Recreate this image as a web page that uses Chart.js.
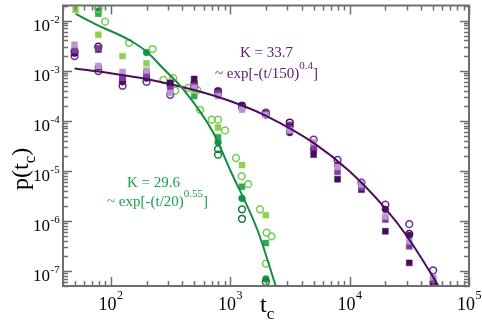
<!DOCTYPE html>
<html>
<head>
<meta charset="utf-8">
<script src="https://cdn.jsdelivr.net/npm/chart.js@4"></script>
<style>
  html, body { margin: 0; padding: 0; background: #fff; }
</style>
</head>
<body>
<canvas id="chart" width="482" height="323"></canvas>
<script>
// ---- data ----
const tPurple = [50, 79, 126, 200, 316, 501, 794, 1259, 1995, 3162, 5012, 7943, 12589, 19953, 31623, 50119];
const purpleSqLight = [3.3e-3, 1.24e-3, 9.4e-4, 1.0e-3, 3.6e-4, 4.5e-4, 3.1e-4, 1.66e-4, 1.3e-4, 6.4e-5, 3.7e-5, 1.19e-5, 5.3e-6, 1.22e-6, 3.9e-7, 7.5e-8];
const purpleSqMid = [2.55e-3, 2.8e-3, 7.1e-4, 8.2e-4, 4.3e-4, 5.0e-4, 3.6e-4, 1.82e-4, 1.35e-4, 7.0e-5, 2.95e-5, 9.5e-6, 4.6e-6, 1.06e-6, 3.1e-7, 6.6e-8];
const purpleSqDark = [2.3e-3, 2.65e-3, 6.8e-4, 9.0e-4, 5.7e-4, 6.8e-4, 3.9e-4, 2.0e-4, 1.4e-4, 7.7e-5, 2.1e-5, 6.8e-6, 4.2e-6, 6.2e-7, 1.45e-7, 5.5e-8];
const purpleDot = [2.23e-3, 1.18e-3, 6.0e-4, 7.1e-4, 5.2e-4, 5.7e-4, 3.3e-4, 1.82e-4, 1.3e-4, 5.8e-5, 2.7e-5, 1.3e-5, 5.0e-6, 1.7e-6, 5.1e-7, 5.8e-8];
const purpleRing = [1.95e-3, 9.8e-4, 5.0e-4, 6.0e-4, 3.3e-4, 4.7e-4, 3.9e-4, 2.0e-4, 1.45e-4, 8.0e-5, 4.2e-5, 1.65e-5, 5.8e-6, 2.1e-6, 8.6e-7, 1.03e-7];
const tPurpleRing2 = [50, 79, 3162, 31623];
const purpleRing2 = [2.4e-3, 3.0e-3, 9.2e-5, 5.5e-7];

const tGreenSq = [51, 79, 126, 200, 316, 501, 794, 1259, 1995];
const greenSqLight = [1.65e-2, 5.2e-3, 1.95e-3, 1.4e-3, 5.7e-4, 4.0e-4, 7.3e-5, 1.3e-5, 1.3e-6];
const tGreenRing = [79, 90, 143, 225, 277, 335, 348, 447, 531, 562, 704, 794, 908, 1122, 1252, 1421, 1778, 2023, 2226, 1995];
const greenRing = [1.7e-2, 9.5e-3, 3.6e-3, 2.7e-3, 6.5e-4, 7.1e-4, 4.0e-4, 4.5e-4, 4.1e-4, 1.65e-4, 1.05e-4, 1.05e-4, 6.4e-5, 1.8e-5, 7.8e-6, 5.4e-6, 1.7e-6, 5.8e-7, 4.9e-7, 1.4e-7];
const tGreenSqMid = [79, 316, 501, 794, 1259, 1995];
const greenSqMid = [1.37e-2, 5.0e-4, 3.1e-4, 4.7e-5, 4.8e-6, 3.6e-7];
const tGreenRingDark = [79, 794, 794, 1259, 1259, 1995];
const greenRingDark = [1.8e-2, 2.7e-5, 2.1e-5, 1.7e-6, 1.1e-6, 6.0e-8];
const tGreenDot = [79, 200, 794, 1259, 1995];
const greenDot = [1.55e-2, 2.3e-3, 3.7e-5, 2.8e-6, 6.9e-8];

// fitted curves
const tFitGreen = [51, 77, 146, 200, 276, 408, 721, 1000, 1711, 2420];
const fitGreen = [1.36e-2, 8.2e-3, 4.0e-3, 2.4e-3, 1.1e-3, 4.2e-4, 5.9e-5, 1.05e-5, 6.2e-7, 4.9e-8];
const tFitPurple = [50, 100, 200, 500, 1000, 2000, 5000, 10000, 20000, 30000, 50000, 56000];
const fitPurple = [1.1e-3, 8.9e-4, 6.8e-4, 4.1e-4, 2.47e-4, 1.25e-4, 3.6e-5, 9.8e-6, 1.76e-6, 5.1e-7, 7.6e-8, 4.8e-8];

const xTicks = [100, 1000, 10000, 100000];
const yTicks = [1e-2, 1e-3, 1e-4, 1e-5, 1e-6, 1e-7];

const pts = (ts, ps) => ts.map((t, i) => ({ x: t, y: ps[i] }));

function marks(label, ts, ps, shape, color, filled) {
  return {
    label: label,
    data: pts(ts, ps),
    showLine: false,
    pointStyle: shape,
    pointRadius: shape === "rect" ? 4.2 : 3.4,
    pointBorderWidth: filled ? 0.5 : 1.5,
    pointBorderColor: color,
    pointBackgroundColor: filled ? color : "rgba(0,0,0,0)",
    order: 2,
  };
}

function fit(label, ts, ps, color) {
  return {
    label: label,
    data: pts(ts, ps),
    showLine: true,
    borderColor: color,
    borderWidth: 2,
    pointRadius: 0,
    cubicInterpolationMode: "monotone",
    order: 1,
  };
}

const datasets = [
  marks("purple sq light", tPurple, purpleSqLight, "rect", "#b896d2", true),
  marks("purple sq mid", tPurple, purpleSqMid, "rect", "#7b3f99", true),
  marks("purple sq dark", tPurple, purpleSqDark, "rect", "#4a0b5a", true),
  marks("purple dot", tPurple, purpleDot, "circle", "#4d0e5e", true),
  marks("purple ring", tPurple, purpleRing, "circle", "#6e2d8e", false),
  marks("purple ring 2", tPurpleRing2, purpleRing2, "circle", "#4a0b5a", false),
  marks("green sq light", tGreenSq, greenSqLight, "rect", "#8fd14f", true),
  marks("green ring", tGreenRing, greenRing, "circle", "#74cc52", false),
  marks("green sq mid", tGreenSqMid, greenSqMid, "rect", "#35a852", true),
  marks("green ring dark", tGreenRingDark, greenRingDark, "circle", "#137a37", false),
  marks("green dot", tGreenDot, greenDot, "circle", "#149a46", true),
  fit("fit K=29.6", tFitGreen, fitGreen, "#128c3e"),
  fit("fit K=33.7", tFitPurple, fitPurple, "#4e0b5e"),
];

// text with superscripts / subscripts, drawn in pieces
function supText(ctx, parts, x, y) {
  let cx = x;
  for (const p of parts) {
    ctx.font = p.font;
    ctx.fillText(p.s, cx, y + (p.dy || 0));
    cx += ctx.measureText(p.s).width;
  }
}

const SERIF = '"Liberation Serif", "DejaVu Serif", serif';

const framePlugin = {
  id: "frame",
  afterDraw(chart) {
    const { ctx, chartArea: a, scales } = chart;
    const x = scales.x, y = scales.y;
    ctx.save();
    ctx.strokeStyle = "#6e6e6e";
    ctx.lineWidth = 1.5;
    const seg = (x1, y1, x2, y2) => {
      ctx.beginPath(); ctx.moveTo(x1, y1); ctx.lineTo(x2, y2); ctx.stroke();
    };
    // ticks, inward on all four sides
    for (let e = 1; e <= 5; e++) {
      for (let m = 1; m <= 9; m++) {
        const v = m * Math.pow(10, e);
        if (v < x.min || v > x.max) continue;
        const px = Math.round(x.getPixelForValue(v)) + 0.5;
        const len = m === 1 ? 9 : 5;
        seg(px, a.bottom, px, a.bottom - len);
        seg(px, a.top, px, a.top + len);
      }
    }
    for (let e = -8; e <= -1; e++) {
      for (let m = 1; m <= 9; m++) {
        const v = m * Math.pow(10, e);
        if (v < y.min || v > y.max) continue;
        const py = Math.round(y.getPixelForValue(v)) + 0.5;
        const len = m === 1 ? 9 : 5;
        seg(a.left, py, a.left + len, py);
        seg(a.right, py, a.right - len, py);
      }
    }
    ctx.lineWidth = 2;
    ctx.strokeRect(a.left, a.top, a.right - a.left, a.bottom - a.top);

    // tick labels
    ctx.fillStyle = "#000";
    ctx.textBaseline = "alphabetic";
    ctx.textAlign = "left";
    for (const v of yTicks) {
      const py = y.getPixelForValue(v);
      const ex = String(Math.round(Math.log10(v)));
      ctx.font = "17px " + SERIF;
      const w = ctx.measureText("10").width;
      ctx.fillText("10", 50 - w, py + 10.5);
      ctx.font = "11px " + SERIF;
      ctx.fillText(ex, 50.5, py + 2);
    }
    for (const v of xTicks) {
      const px = x.getPixelForValue(v);
      const ex = String(Math.round(Math.log10(v)));
      ctx.font = "18px " + SERIF;
      const w1 = ctx.measureText("10").width;
      ctx.font = "12px " + SERIF;
      const w2 = ctx.measureText(ex).width;
      const sx = px - (w1 + w2) / 2;
      ctx.font = "18px " + SERIF;
      ctx.fillText("10", sx, 310);
      ctx.font = "12px " + SERIF;
      ctx.fillText(ex, sx + w1 + 0.5, 299);
    }

    // axis titles
    supText(ctx, [
      { s: "t", font: "24px " + SERIF },
      { s: "c", font: "17px " + SERIF, dy: 7 },
    ], 260, 312);
    ctx.save();
    ctx.translate(28, 190);
    ctx.rotate(-Math.PI / 2);
    supText(ctx, [
      { s: "p(t", font: "24px " + SERIF },
      { s: "c", font: "17px " + SERIF, dy: 7 },
      { s: ")", font: "24px " + SERIF },
    ], 0, 0);
    ctx.restore();

    // annotations
    ctx.fillStyle = "#5a1a6e";
    ctx.font = "15px " + SERIF;
    ctx.fillText("K = 33.7", 240, 57);
    supText(ctx, [
      { s: "~ exp[-(t/150)", font: "15px " + SERIF },
      { s: "0.4", font: "11px " + SERIF, dy: -9 },
      { s: "]", font: "15px " + SERIF },
    ], 215, 78);

    ctx.fillStyle = "#17a04a";
    ctx.font = "15px " + SERIF;
    ctx.fillText("K = 29.6", 127, 187);
    supText(ctx, [
      { s: "~ exp[-(t/20)", font: "15px " + SERIF },
      { s: "0.55", font: "11px " + SERIF, dy: -9 },
      { s: "]", font: "15px " + SERIF },
    ], 107, 206);
    ctx.restore();
  },
};

const config = {
  type: "scatter",
  data: { datasets: datasets },
  options: {
    responsive: false,
    animation: false,
    devicePixelRatio: 1,
    layout: { padding: { left: 63, right: 13, top: 3, bottom: 37 } },
    scales: {
      x: { type: "logarithmic", min: 40, max: 100000, display: false },
      y: { type: "logarithmic", min: 5e-8, max: 2e-2, display: false },
    },
    plugins: {
      legend: { display: false },
      tooltip: { enabled: false },
    },
  },
  plugins: [framePlugin],
};

const pChart = new Chart(document.getElementById("chart"), config);
</script>
</body>
</html>
